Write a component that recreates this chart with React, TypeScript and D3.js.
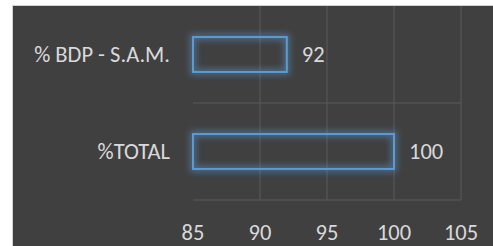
import React from "react";
import * as d3 from "d3";

const categories = ["% BDP - S.A.M.", "%TOTAL"];
const values = [92, 100];
const xTicks = [85, 90, 95, 100, 105];

const W = 493;
const H = 246;

export default function App() {
  const x = d3.scaleLinear().domain([85, 105]).range([193, 461]);
  const y = d3.scaleBand<string>().domain(categories).range([6, 200]).paddingInner(0.64).paddingOuter(0.32);
  const text = "#D9D9D9";
  const grid = "#5A5A5A";
  const blue = "#5B9BD5";
  const font = "Carlito, Calibri, Lato, 'Liberation Sans', Arial, sans-serif";
  const fs = 22.5;
  const bandStep = y.step();
  return (
    <div style={{ position: "fixed", left: 0, top: 0 }}>
      <svg width={W} height={H} style={{ display: "block" }}>
        <defs>
          <filter id="glow" x="-20%" y="-40%" width="140%" height="180%">
            <feGaussianBlur stdDeviation="3" />
          </filter>
        </defs>
        <rect x={0} y={0} width={W} height={H} fill="#FFFFFF" />
        <rect x={12} y={5} width={W - 12} height={H - 5} fill="#D0D0D0" />
        <rect x={13} y={6} width={W - 13} height={H - 6} fill="#404040" />
        {xTicks.slice(1).map((t) => (
          <line key={t} x1={x(t)} x2={x(t)} y1={6} y2={200} stroke={grid} strokeWidth={1} />
        ))}
        {categories.map((c, i) => (
          <line
            key={c}
            x1={x(85)}
            x2={x(105)}
            y1={6 + bandStep * (i + 1)}
            y2={6 + bandStep * (i + 1)}
            stroke={grid}
            strokeWidth={1}
          />
        ))}
        {categories.map((c, i) => {
          const yy = y(c)!;
          const bw = y.bandwidth();
          const x0 = x(85);
          const x1 = x(values[i]);
          return (
            <g key={c}>
              <rect x={x0} y={yy} width={x1 - x0} height={bw} fill="none" stroke={blue} strokeWidth={6} opacity={0.5} filter="url(#glow)" />
              <rect x={x0} y={yy} width={x1 - x0} height={bw} fill="none" stroke={blue} strokeWidth={2} />
              <text x={170} y={yy + bw / 2} dy="0.35em" textAnchor="end" fill={text} fontFamily={font} fontSize={fs}>
                {c}
              </text>
              <text x={x1 + 15} y={yy + bw / 2} dy="0.35em" textAnchor="start" fill={text} fontFamily={font} fontSize={fs}>
                {values[i]}
              </text>
            </g>
          );
        })}
        {xTicks.map((t) => (
          <text key={t} x={x(t)} y={232} dy="0.35em" textAnchor="middle" fill={text} fontFamily={font} fontSize={fs}>
            {t}
          </text>
        ))}
      </svg>
    </div>
  );
}
